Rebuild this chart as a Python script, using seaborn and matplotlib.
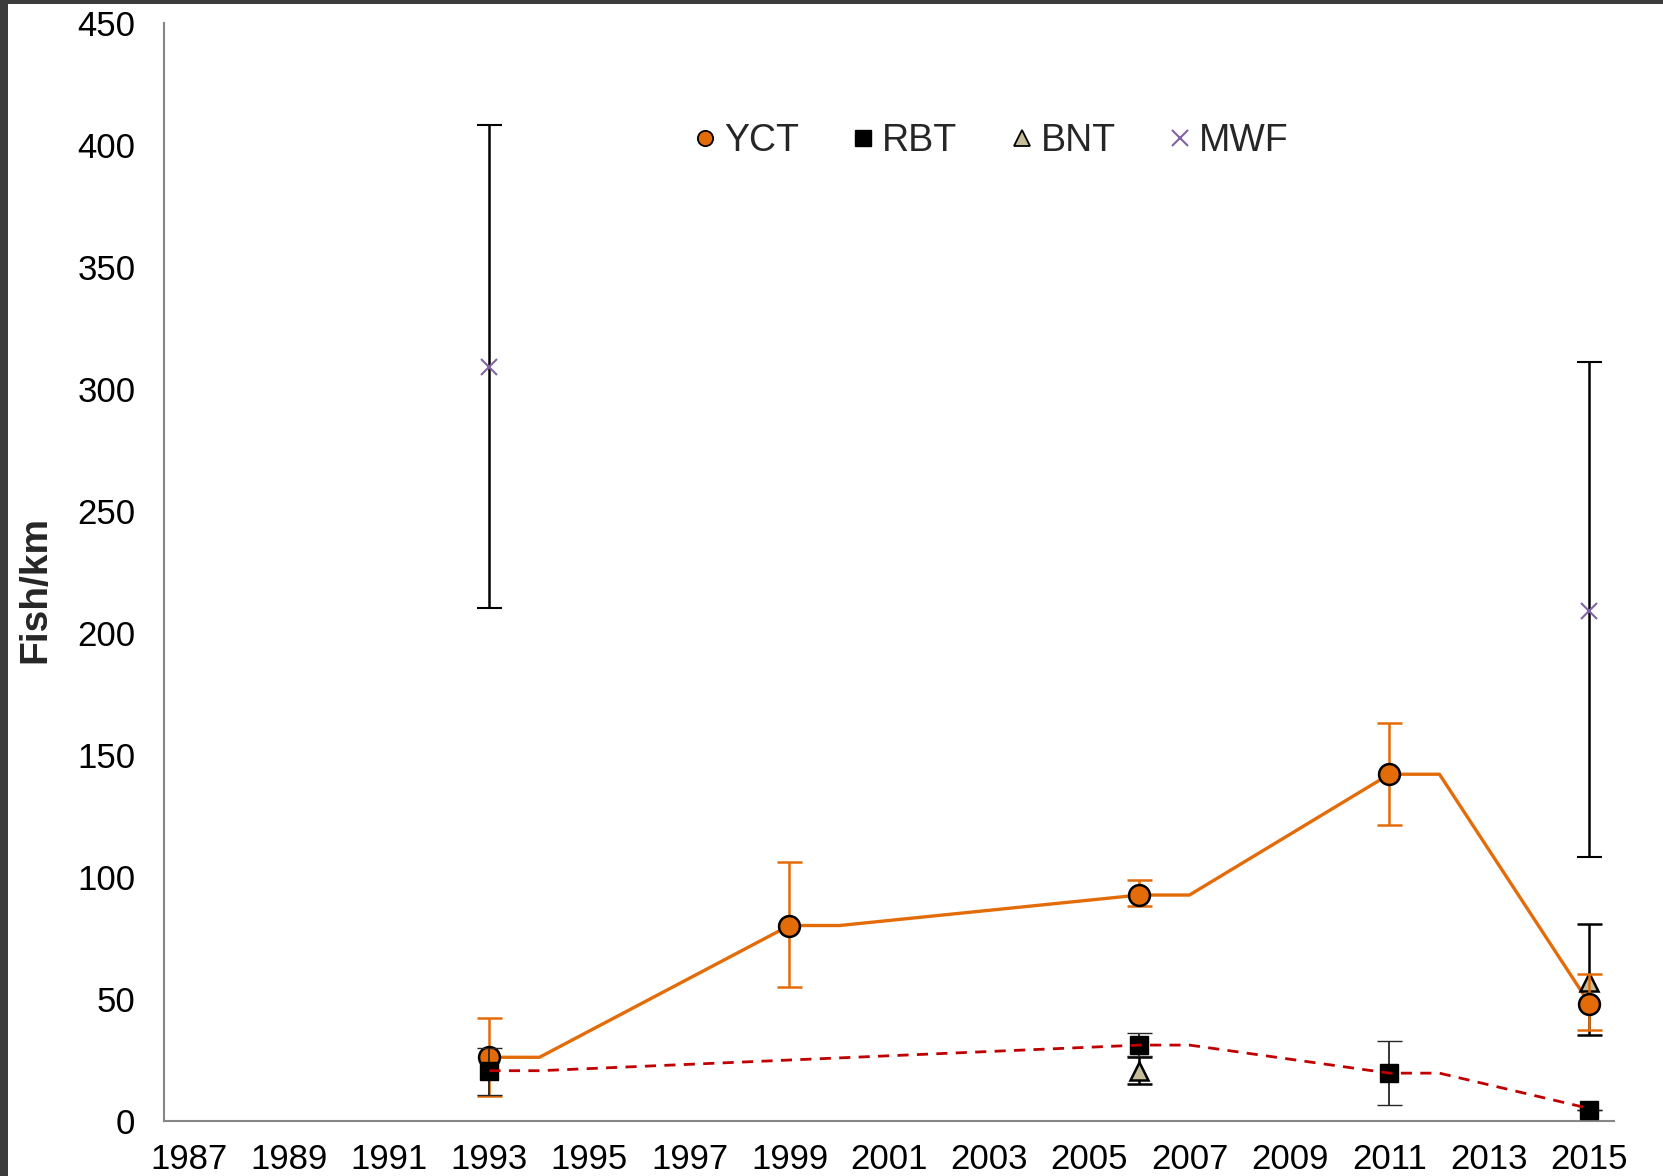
import matplotlib
matplotlib.use("Agg")
import matplotlib.pyplot as plt
import seaborn as sns
import numpy as np
import pandas as pd
from matplotlib.lines import Line2D
from matplotlib.patches import Rectangle

# survey estimates (fish/km) with lower / upper bounds
yct_years = [1993, 1999, 2006, 2011, 2015]
yct = [26, 80, 92.5, 142, 48]
yct_lo = [10, 55, 88, 121, 37]
yct_hi = [42, 106, 98.5, 163, 60]

rbt_years = [1993, 2006, 2011, 2015]
rbt = [20.5, 31, 19.5, 4.5]
rbt_lo = [10.5, 26.5, 6.5, 4.5]
rbt_hi = [30, 36, 32.5, 4.5]

bnt_years = [2006, 2015]
bnt = [20.5, 57]
bnt_lo = [15, 35]
bnt_hi = [26, 80.5]

mwf_years = [1993, 2015]
mwf = [309, 209]
mwf_lo = [210, 108]
mwf_hi = [408, 311]

# trend lines as drawn in the original
yct_trend_x = [1993, 1994, 1999, 2000, 2006, 2007, 2011, 2012, 2015]
yct_trend_y = [26, 26, 80, 80, 92.5, 92.5, 142, 142, 48]
rbt_trend_x = [1993, 1994, 2006, 2007, 2011, 2012, 2015]
rbt_trend_y = [20.5, 20.5, 31, 31, 19.5, 19.5, 5]

year_labels = list(range(1987, 2016, 2))

ORANGE = "#E36C09"
RED = "#C00000"
TAN = "#C4BD97"
PURPLE = "#8064A2"
GRAY = "#868686"

sns.set_style("white")
plt.rcParams["font.family"] = ["Liberation Sans", "DejaVu Sans"]

fig = plt.figure(figsize=(16.63, 11.76), dpi=100)
fig.patch.set_facecolor("#3c3c3c")
fig.add_artist(Rectangle((8 / 1663, 0), 1, 1 - 4 / 1176, transform=fig.transFigure,
                         facecolor="white", edgecolor="none", zorder=-5))
ax = fig.add_axes([0.0989, 0.047, 0.8719, 0.9337])


def err(vals, lo, hi):
    v = np.array(vals, dtype=float)
    return [v - np.array(lo), np.array(hi) - v]


# trend lines
trend_yct = pd.DataFrame({"year": yct_trend_x, "val": yct_trend_y})
trend_rbt = pd.DataFrame({"year": rbt_trend_x, "val": rbt_trend_y})
sns.lineplot(data=trend_yct, x="year", y="val", ax=ax, color=ORANGE, lw=2.4,
             estimator=None, sort=False, zorder=2)
sns.lineplot(data=trend_rbt, x="year", y="val", ax=ax, color=RED, lw=2.0,
             estimator=None, sort=False, zorder=6, dashes=False, linestyle=(0, (4, 3)))

# points with error bars
ax.errorbar(mwf_years, mwf, yerr=err(mwf, mwf_lo, mwf_hi), fmt="x", ms=11, mew=1.5,
            color=PURPLE, ecolor="black", elinewidth=1.8, capsize=9, capthick=1.8, zorder=3)
ax.errorbar(bnt_years, bnt, yerr=err(bnt, bnt_lo, bnt_hi), fmt="^", ms=13, mew=1.8,
            mfc=TAN, mec="black", ecolor="black", elinewidth=1.8, capsize=9, capthick=1.8, zorder=3)
ax.errorbar(yct_years, yct, yerr=err(yct, yct_lo, yct_hi), fmt="o", ms=15, mew=1.8,
            mfc=ORANGE, mec="black", ecolor=ORANGE, elinewidth=1.8, capsize=9, capthick=1.8, zorder=4)
ax.errorbar(rbt_years, rbt, yerr=err(rbt, rbt_lo, rbt_hi), fmt="s", ms=13.5, mew=1.0,
            mfc="black", mec="black", ecolor="#262626", elinewidth=1.3, capsize=9, capthick=1.3, zorder=5)

# axes
ax.set_xlim(1986.5, 2015.5)
ax.set_ylim(0, 450)
ax.set_xticks(year_labels)
ax.set_xticklabels([str(y) for y in year_labels])
ax.set_xticks(np.arange(1986.5, 2016, 1), minor=True)
ax.tick_params(axis="x", which="major", length=0, pad=16, labelsize=25, labelcolor="black")
ax.tick_params(axis="x", which="minor", length=10, width=1.5, color=GRAY, direction="out")
ax.set_yticks(range(0, 451, 50))
ax.tick_params(axis="y", length=9, width=1.5, color=GRAY, direction="out", pad=12,
               labelsize=25, labelcolor="black")
ax.set_xlabel("")
ax.set_ylabel("Fish/km", fontsize=28, fontweight="bold")
ax.yaxis.set_label_coords(-0.0768, 0.484)
for s in ["top", "right"]:
    ax.spines[s].set_visible(False)
for s in ["left", "bottom"]:
    ax.spines[s].set_color(GRAY)
    ax.spines[s].set_linewidth(1.5)

handles = [
    Line2D([], [], ls="none", marker="o", ms=11, mfc=ORANGE, mec="black", mew=1.3),
    Line2D([], [], ls="none", marker="s", ms=11, mfc="black", mec="black"),
    Line2D([], [], ls="none", marker="^", ms=11, mfc=TAN, mec="black", mew=1.3),
    Line2D([], [], ls="none", marker="x", ms=11, color=PURPLE, mew=1.5),
]
fig.legend(handles, ["YCT", "RBT", "BNT", "MWF"], loc="center",
           bbox_to_anchor=(0.596, 0.880), ncol=4, frameon=False, fontsize=27,
           handlelength=0.6, handletextpad=0.2, columnspacing=1.42)

fig.savefig("out.png", dpi=100, facecolor=fig.get_facecolor())
